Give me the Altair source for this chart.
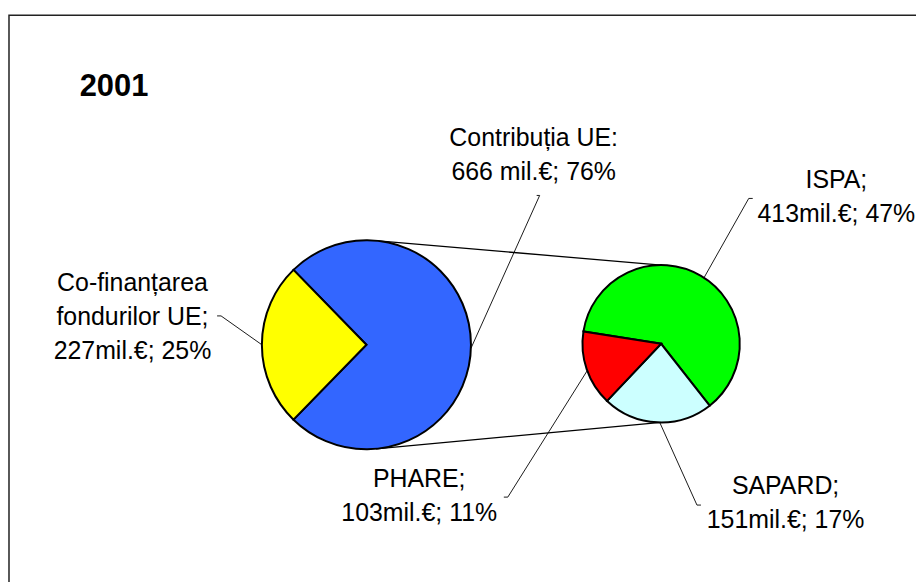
import math
import altair as alt
import pandas as pd

# ---------------- data ----------------
year_title = "2001"
primary_labels = ["Contribuția UE", "Co-finanțarea fondurilor UE"]
primary_values = [666, 227]
primary_texts = ["Contribuția UE:\n666 mil.€; 76%", "Co-finanțarea\nfondurilor UE;\n227mil.€; 25%"]
primary_colors = ["#3366FF", "#FFFF00"]

secondary_labels = ["ISPA", "SAPARD", "PHARE"]
secondary_values = [413, 151, 103]
secondary_texts = ["ISPA;\n413mil.€; 47%", "SAPARD;\n151mil.€; 17%", "PHARE;\n103mil.€; 11%"]
secondary_colors = ["#00FF00", "#CCFFFF", "#FF0000"]

# ---------------- layout ----------------
W, H = 912, 574
OFF = 8
FONT = "Liberation Sans"
FS = 25
LH = 34

C1 = (368 - OFF, 345 - OFF)
R1 = 105
C2 = (664 - OFF, 344 - OFF)
R2 = 79

frac_main = primary_values[0] / sum(primary_values)
start1 = math.pi / 2 - math.pi * frac_main
start2 = math.radians(-81)

# label positions (page coords: centre x, first baseline y)
label_pos = {
    "Contribuția UE": (536, 145),
    "Co-finanțarea fondurilor UE": (133, 291),
    "ISPA": (840, 188),
    "SAPARD": (789, 495),
    "PHARE": (421, 488),
}
# leader lines: stub end, elbow (page coords), pie, angle on pie (math degrees)
leaders = {
    "Contribuția UE": ((539, 195), (542, 195), 1, -2),
    "Co-finanțarea fondurilor UE": ((218, 316), (222, 316), 1, 180),
    "ISPA": ((756, 198), (752, 198), 2, 57),
    "SAPARD": ((704, 506), (700, 506), 2, 269),
    "PHARE": ((506, 498), (510, 498), 2, 200),
}


def on_circle(pie, deg):
    c, r = (C1, R1) if pie == 1 else (C2, R2)
    a = math.radians(deg)
    return (c[0] + r * math.cos(a), c[1] - r * math.sin(a))


def tangent_point(p, c, r, upper):
    vx, vy = p[0] - c[0], p[1] - c[1]
    d = math.hypot(vx, vy)
    base = math.atan2(vy, vx)
    delta = math.acos(r / d)
    a = base - delta if upper else base + delta
    return (c[0] + r * math.cos(a), c[1] + r * math.sin(a))


# ---------------- tables ----------------
df1 = pd.DataFrame({"name": primary_labels, "value": primary_values,
                    "k": list(range(len(primary_labels)))})
df2 = pd.DataFrame({"name": secondary_labels, "value": secondary_values,
                    "k": list(range(len(secondary_labels)))})

txt_rows = []
for lab, t in zip(primary_labels + secondary_labels, primary_texts + secondary_texts):
    px, py = label_pos[lab]
    txt_rows.append({"t": t, "x": px - OFF, "y": py - OFF})
df_txt = pd.DataFrame(txt_rows)

lead_rows = []
for lab, (stub, elbow, pie, deg) in leaders.items():
    pts = [(stub[0] - OFF, stub[1] - OFF), (elbow[0] - OFF, elbow[1] - OFF), on_circle(pie, deg)]
    for i, (x, y) in enumerate(pts):
        lead_rows.append({"seg": lab, "i": i, "x": x, "y": y})
df_lead = pd.DataFrame(lead_rows)

# connector lines: from top / bottom of the secondary pie, tangent to the primary pie
con_rows = []
for side, upper in (("top", True), ("bottom", False)):
    p2 = (C2[0], C2[1] - R2) if upper else (C2[0], C2[1] + R2)
    p1 = tangent_point(p2, C1, R1, upper)
    con_rows.append({"seg": side, "i": 0, "x": p1[0], "y": p1[1]})
    con_rows.append({"seg": side, "i": 1, "x": p2[0], "y": p2[1]})
df_con = pd.DataFrame(con_rows)

# ---------------- marks ----------------
frame = alt.Chart(pd.DataFrame({"a": [0]})).mark_rect(
    fill="white", stroke="#222222", strokeWidth=1.5
).encode(x=alt.value(1), x2=alt.value(W + 30), y=alt.value(6), y2=alt.value(H + 30))

connectors = alt.Chart(df_con).mark_line(color="black", strokeWidth=1.3).encode(
    x=alt.X("x:Q", scale=None, axis=None),
    y=alt.Y("y:Q", scale=None, axis=None),
    detail="seg:N", order="i:Q")

leader_lines = alt.Chart(df_lead).mark_line(color="black", strokeWidth=0.9).encode(
    x=alt.X("x:Q", scale=None, axis=None),
    y=alt.Y("y:Q", scale=None, axis=None),
    detail="seg:N", order="i:Q")

pie1 = alt.Chart(df1).mark_arc(outerRadius=R1, stroke="black", strokeWidth=2).encode(
    theta=alt.Theta("value:Q", stack=True,
                    scale=alt.Scale(range=[start1, start1 + 2 * math.pi])),
    order=alt.Order("k:Q"),
    color=alt.Color("name:N", scale=alt.Scale(domain=primary_labels, range=primary_colors),
                    legend=None),
    x=alt.value(C1[0]), y=alt.value(C1[1]))

pie2 = alt.Chart(df2).mark_arc(outerRadius=R2, stroke="black", strokeWidth=2).encode(
    theta=alt.Theta("value:Q", stack=True,
                    scale=alt.Scale(range=[start2, start2 + 2 * math.pi])),
    order=alt.Order("k:Q"),
    color=alt.Color("name:N", scale=alt.Scale(domain=secondary_labels, range=secondary_colors),
                    legend=None),
    x=alt.value(C2[0]), y=alt.value(C2[1]))

labels = alt.Chart(df_txt).mark_text(
    font=FONT, fontSize=FS, color="black", align="center", baseline="alphabetic",
    lineBreak="\n", lineHeight=LH
).encode(x=alt.X("x:Q", scale=None, axis=None), y=alt.Y("y:Q", scale=None, axis=None),
         text="t:N")

title = alt.Chart(pd.DataFrame({"t": [year_title]})).mark_text(
    font=FONT, fontSize=31, fontWeight="bold", color="black", align="left",
    baseline="alphabetic"
).encode(x=alt.value(80 - OFF), y=alt.value(95 - OFF), text="t:N")

chart = alt.layer(frame, connectors, leader_lines, pie1, pie2, labels, title).resolve_scale(
    theta="independent", color="independent"
).properties(
    width=W, height=H, autosize="none", padding=0, background="white"
).configure_view(stroke=None)

chart.save("out.html", embed_options={"renderer": "svg", "actions": False})
